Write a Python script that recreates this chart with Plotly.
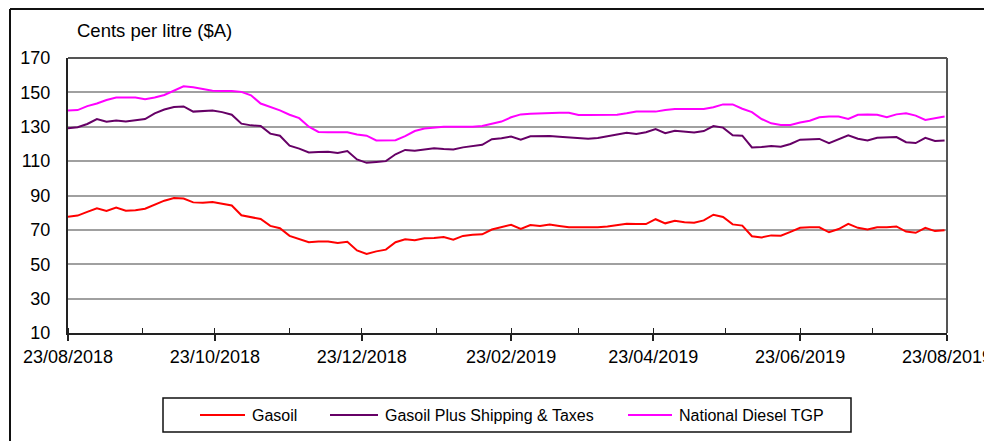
import pandas as pd
import plotly.graph_objects as go

# Sampling dates (every 4 days from 23/08/2018)
dates = pd.date_range("2018-08-23", periods=92, freq="4D")

gasoil = [77.7, 78.3, 80.5, 82.5, 81.0, 83.0, 81.2, 81.4, 82.3, 84.8,
          87.0, 88.5, 88.2, 86.0, 85.8, 86.2, 85.2, 84.2, 78.5, 77.5,
          76.3, 72.3, 71.0, 66.5, 64.8, 62.8, 63.2, 63.3, 62.4, 63.1,
          58.0, 56.0, 57.5, 58.5, 62.8, 64.5, 64.0, 65.1, 65.3, 65.8,
          64.3, 66.5, 67.2, 67.4, 70.2, 71.5, 73.0, 70.5, 72.8, 72.3,
          73.1, 72.3, 71.5, 71.5, 71.5, 71.5, 72.0, 73.0, 73.6, 73.4,
          73.4, 76.2, 73.8, 75.3, 74.5, 74.2, 75.5, 78.8, 77.5, 73.2,
          72.5, 66.3, 65.6, 66.8, 66.6, 68.8, 71.2, 71.5, 71.5, 68.6,
          70.5, 73.5, 71.2, 70.2, 71.5, 71.5, 72.0, 69.0, 68.3, 71.2,
          69.3, 69.8]

gasoil_plus = [129.1, 129.7, 131.6, 134.5, 132.9, 133.7, 133.0, 133.8, 134.5, 137.8,
               140.0, 141.5, 141.8, 138.8, 139.2, 139.5, 138.5, 137.0, 131.8, 130.8,
               130.5, 126.0, 124.8, 119.0, 117.3, 115.0, 115.3, 115.5, 114.8, 115.9,
               111.0, 109.0, 109.5, 110.0, 114.0, 116.5, 116.0, 116.8, 117.5, 117.0,
               116.8, 118.0, 118.6, 119.5, 122.8, 123.3, 124.3, 122.5, 124.5, 124.6,
               124.6, 124.2, 123.8, 123.5, 123.0, 123.5, 124.6, 125.8, 126.5, 125.8,
               126.8, 128.6, 126.2, 127.7, 127.2, 126.6, 127.5, 130.4, 129.5, 125.0,
               124.8, 118.0, 118.2, 118.8, 118.4, 120.0, 122.5, 122.9, 122.9, 120.5,
               122.8, 125.0, 123.0, 122.0, 123.6, 123.6, 124.0, 121.0, 120.5, 123.5,
               121.7, 122.0]

national_tgp = [139.5, 139.7, 142.0, 143.5, 145.6, 147.0, 147.0, 147.0, 146.0, 147.0,
                148.5, 151.0, 153.5, 153.0, 151.8, 151.0, 150.8, 150.8, 150.3, 148.3,
                143.5, 141.7, 139.5, 137.0, 135.0, 130.0, 127.0, 126.8, 126.8, 126.8,
                125.5, 124.8, 122.0, 121.9, 122.2, 124.5, 127.5, 129.0, 129.5, 130.0,
                130.0, 130.0, 130.0, 130.5, 131.8, 133.0, 135.5, 137.2, 137.5, 137.8,
                138.2, 138.2, 138.2, 136.8, 136.8, 136.8, 137.0, 137.0, 137.8, 138.8,
                138.8, 138.8, 139.8, 140.3, 140.3, 140.3, 140.3, 141.3, 143.0, 143.0,
                140.5, 138.5, 134.5, 132.0, 131.0, 131.0, 132.5, 133.5, 135.5, 135.9,
                135.9, 134.5, 137.0, 137.2, 137.0, 135.5, 137.2, 137.8, 136.5, 134.0,
                134.9, 135.9]

series_names = ["Gasoil", "Gasoil Plus Shipping & Taxes", "National Diesel TGP"]
series_colors = ["#FF0000", "#660066", "#FF00FF"]
y_ticks = [10, 30, 50, 70, 90, 110, 130, 150, 170]

FONT = "Arial, Liberation Sans, sans-serif"

# Page offset (default body margin) and figure size
OFF = 8
FW, FH = 992 - OFF, 441 - OFF
# Plot-area geometry in page pixels (used only to place decorations)
L, R, T, B = 68, 947, 58, 333
PW, PH = R - L, B - T


def px(xp):
    return (xp - L) / PW


def py(yp):
    return (B - yp) / PH


fig = go.Figure()
for name, vals, col in zip(series_names, [gasoil, gasoil_plus, national_tgp], series_colors):
    fig.add_trace(go.Scatter(x=dates, y=vals, mode="lines", name=name,
                             line=dict(color=col, width=2), showlegend=False))

fig.update_layout(
    width=FW, height=FH,
    margin=dict(l=L - OFF, r=992 - R, t=T - OFF, b=441 - B, autoexpand=False),
    paper_bgcolor="white", plot_bgcolor="white",
    font=dict(family=FONT, size=18, color="black"),
    showlegend=False,
)

fig.update_xaxes(
    type="date",
    range=["2018-08-23", "2019-08-23"],
    tick0="2018-08-23", dtick="M2", tickformat="%d/%m/%Y",
    ticks="outside", ticklen=6, tickwidth=2, tickcolor="#222",
    showline=True, linecolor="#222", linewidth=2, mirror=False,
    showgrid=False, zeroline=False, automargin=False,
    ticklabeloverflow="allow",
    tickfont=dict(family=FONT, size=18),
    minor=dict(ticks="inside", ticklen=5, tickwidth=1, tickcolor="#222",
               dtick="M1", tick0="2018-08-23", showgrid=False),
)
fig.update_yaxes(
    range=[10, 170], tickvals=y_ticks,
    showgrid=True, gridcolor="#A0A0A0", gridwidth=2,
    showline=True, linecolor="#222", linewidth=2,
    zeroline=False, ticks="", ticklabelstandoff=12, automargin=False,
    tickfont=dict(family=FONT, size=18),
)

# Plot area frame (top and right)
fig.add_shape(type="line", xref="paper", yref="paper", x0=0, x1=1, y0=1, y1=1,
              line=dict(color="#555", width=2))
fig.add_shape(type="line", xref="paper", yref="paper", x0=1, x1=1, y0=0, y1=1,
              line=dict(color="#555", width=2))

# Outer chart frame (left and top)
fig.add_shape(type="line", xref="paper", yref="paper", x0=px(10), x1=px(1000), y0=py(OFF + 1), y1=py(OFF + 1),
              line=dict(color="#111", width=2))
fig.add_shape(type="line", xref="paper", yref="paper", x0=px(10), x1=px(10), y0=py(OFF + 1), y1=py(450),
              line=dict(color="#111", width=2))

# Legend box with line samples and labels
fig.add_shape(type="rect", xref="paper", yref="paper", x0=px(163), x1=px(851), y0=py(398), y1=py(432),
              line=dict(color="#111", width=1.5), fillcolor="rgba(0,0,0,0)")
legend_line_x = [(200, 245), (330, 378), (628, 672)]
legend_text_x = [250, 383, 677]
for name, col, (a, b), tx in zip(series_names, series_colors, legend_line_x, legend_text_x):
    fig.add_shape(type="line", xref="paper", yref="paper", x0=px(a), x1=px(b), y0=py(415), y1=py(415),
                  line=dict(color=col, width=2))
    fig.add_annotation(text=name, xref="paper", yref="paper", x=px(tx), y=py(415),
                       xanchor="left", yanchor="middle", showarrow=False,
                       font=dict(family=FONT, size=16, color="black"))

# Axis unit label
fig.add_annotation(text="Cents per litre ($A)", xref="paper", yref="paper",
                   x=px(75), y=py(30), xanchor="left", yanchor="middle",
                   showarrow=False, font=dict(family=FONT, size=18.5, color="black"))

fig.write_html("out.html")
